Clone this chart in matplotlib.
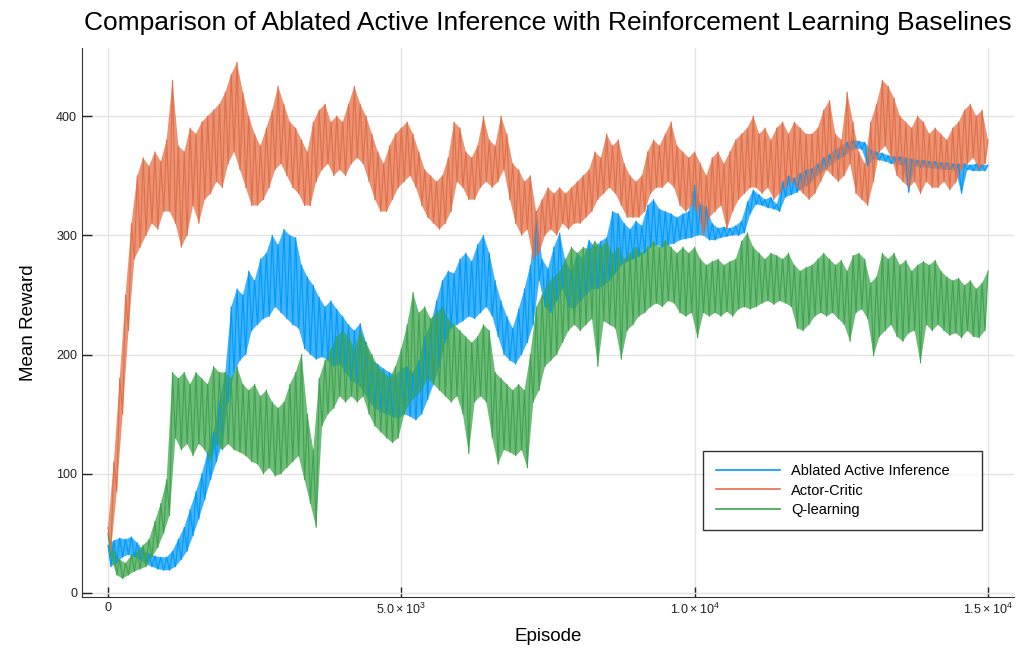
import numpy as np
import matplotlib
matplotlib.use("Agg")
import matplotlib.pyplot as plt

# upper / lower edges of each noisy curve
# hi at episodes 0,100,...,15000 ; lo at episodes 50,150,...,14950
aif_hi = [40, 44, 46, 45, 47, 42, 36, 33, 31, 30,
          30, 35, 45, 55, 70, 85, 100, 118, 135, 160,
          185, 240, 255, 250, 270, 262, 280, 285, 300, 292,
          305, 300, 298, 275, 265, 258, 248, 240, 245, 238,
          232, 225, 220, 226, 210, 195, 192, 188, 185, 182,
          188, 190, 185, 195, 215, 225, 245, 262, 270, 268,
          280, 285, 278, 292, 300, 285, 262, 245, 232, 222,
          238, 255, 275, 320, 280, 272, 290, 302, 278, 270,
          285, 280, 296, 290, 295, 298, 320, 318, 310, 305,
          312, 308, 325, 330, 322, 320, 318, 315, 318, 320,
          342, 326, 324, 310, 306, 307, 306, 308, 312, 328,
          338, 334, 330, 332, 326, 345, 350, 348, 352, 355,
          356, 360, 365, 368, 372, 375, 378, 380, 379, 378,
          372, 370, 369, 367, 366, 366, 365, 364, 363, 363,
          362, 362, 361, 361, 360, 360, 360, 359, 360, 359,
          359]
aif_lo = [22, 25, 30, 32, 30, 28, 24, 22, 20, 19,
          19, 22, 28, 35, 48, 62, 78, 95, 110, 125,
          160, 185, 195, 200, 220, 225, 230, 232, 240, 235,
          230, 225, 222, 205, 200, 196, 198, 195, 190, 192,
          185, 178, 175, 170, 160, 155, 152, 150, 148, 146,
          150, 148, 145, 150, 162, 175, 190, 210, 222, 225,
          228, 232, 230, 235, 240, 232, 215, 200, 195, 192,
          200, 210, 225, 262, 240, 235, 245, 255, 240, 238,
          245, 250, 255, 255, 258, 262, 268, 275, 278, 280,
          282, 285, 290, 292, 290, 292, 293, 296, 297, 298,
          300, 300, 296, 296, 298, 299, 300, 300, 302, 318,
          326, 325, 323, 322, 320, 332, 334, 336, 340, 342,
          348, 352, 356, 360, 364, 366, 370, 373, 372, 358,
          364, 363, 362, 360, 360, 358, 336, 358, 357, 357,
          356, 356, 355, 355, 354, 335, 355, 354, 354, 354]

ac_hi = [55, 110, 180, 250, 310, 350, 365, 358, 370, 362,
         380, 430, 375, 370, 390, 385, 395, 400, 405, 410,
         420, 435, 445, 420, 400, 385, 375, 390, 405, 425,
         410, 395, 390, 380, 370, 395, 405, 410, 395, 400,
         395, 410, 425, 410, 400, 385, 370, 360, 375, 385,
         390, 395, 385, 370, 355, 350, 345, 350, 365, 395,
         390, 370, 365, 375, 400, 380, 375, 400, 385, 360,
         355, 345, 350, 320, 330, 340, 335, 340, 335, 340,
         345, 350, 355, 370, 365, 385, 375, 380, 360, 350,
         345, 350, 370, 380, 375, 385, 395, 375, 370, 365,
         370, 360, 350, 365, 370, 360, 370, 380, 385, 390,
         400, 385, 390, 380, 390, 395, 385, 395, 390, 385,
         385, 390, 405, 413, 385, 380, 420, 395, 370, 360,
         395, 410, 430, 425, 415, 400, 395, 390, 400, 395,
         385, 390, 385, 380, 390, 395, 405, 410, 400, 405,
         380]
ac_lo = [35, 85, 150, 220, 280, 290, 300, 310, 305, 320,
         320, 310, 290, 300, 325, 310, 330, 335, 345, 340,
         360, 370, 355, 340, 325, 325, 330, 340, 355, 360,
         350, 340, 335, 325, 325, 345, 355, 360, 350, 355,
         350, 360, 365, 360, 345, 330, 320, 320, 330, 340,
         345, 350, 340, 325, 315, 310, 305, 310, 320, 345,
         340, 330, 330, 340, 345, 340, 345, 355, 330, 310,
         300, 305, 280, 285, 300, 305, 300, 310, 305, 310,
         310, 315, 320, 330, 335, 340, 335, 325, 315, 315,
         315, 320, 335, 340, 340, 345, 340, 325, 320, 325,
         320, 300, 315, 320, 325, 305, 320, 330, 335, 340,
         340, 335, 340, 330, 335, 340, 345, 340, 335, 330,
         335, 345, 355, 350, 345, 350, 360, 335, 330, 325,
         345, 370, 375, 365, 350, 345, 340, 345, 335, 345,
         340, 340, 345, 338, 344, 355, 360, 365, 355, 360]

ql_hi = [50, 35, 28, 25, 32, 35, 40, 45, 60, 75,
         95, 185, 180, 185, 175, 185, 180, 175, 190, 185,
         185, 180, 190, 175, 170, 175, 165, 170, 160, 155,
         160, 175, 185, 200, 150, 120, 180, 195, 205, 215,
         220, 215, 205, 220, 210, 200, 190, 185, 180, 190,
         205, 225, 252, 235, 240, 230, 235, 240, 230, 225,
         220, 215, 210, 215, 225, 220, 185, 180, 175, 170,
         175, 170, 200, 240, 250, 260, 265, 270, 280, 290,
         285, 290, 288, 295, 290, 295, 285, 290, 280, 285,
         290, 285, 290, 295, 290, 296, 290, 285, 290, 285,
         290, 280, 275, 278, 280, 275, 278, 280, 295, 302,
         290, 285, 280, 285, 283, 280, 285, 275, 270, 273,
         275, 280, 285, 280, 275, 279, 270, 283, 285, 280,
         260, 265, 285, 280, 285, 275, 279, 270, 275, 278,
         275, 279, 270, 265, 262, 264, 258, 262, 255, 260,
         270]
ql_lo = [30, 15, 12, 15, 18, 20, 22, 30, 38, 50,
         65, 130, 120, 125, 115, 125, 120, 110, 125, 120,
         125, 120, 118, 115, 110, 108, 100, 105, 98, 100,
         105, 110, 115, 95, 75, 55, 140, 150, 155, 165,
         160, 165, 160, 165, 150, 140, 135, 130, 126, 130,
         150, 160, 165, 170, 180, 175, 170, 165, 160, 165,
         150, 117, 160, 165, 160, 130, 108, 120, 118, 115,
         120, 105, 160, 170, 190, 195, 200, 210, 220, 225,
         220, 225, 230, 190, 228, 225, 222, 196, 220, 225,
         232, 235, 240, 243, 240, 245, 243, 235, 232, 235,
         214, 235, 232, 235, 232, 236, 232, 238, 240, 238,
         240, 243, 245, 242, 245, 243, 240, 222, 220, 225,
         232, 235, 232, 235, 230, 225, 211, 235, 238, 230,
         199, 215, 220, 225, 215, 211, 218, 220, 193, 225,
         220, 225, 220, 216, 218, 214, 220, 215, 214, 220]

labels = ["Ablated Active Inference", "Actor-Critic", "Q-learning"]
colors = ["#009AFA", "#E36F47", "#3EA44E"]

plt.rcParams["font.family"] = ["Liberation Sans", "DejaVu Sans"]
plt.rcParams["mathtext.default"] = "regular"

fig = plt.figure(figsize=(10.16, 6.48), dpi=100)
ax = fig.add_axes([0.0807, 0.0787, 0.9173, 0.847])

series = [(aif_hi, aif_lo), (ac_hi, ac_lo), (ql_hi, ql_lo)]
for (hi, lo), lab, col in zip(series, labels, colors):
    x_hi = np.linspace(0, 15000, len(hi))
    x_lo = np.linspace(50, 14950, len(lo))
    # band between the two edges, then the zigzag going hi -> lo -> hi ...
    ax.fill(np.concatenate([x_hi, x_lo[::-1]]), np.concatenate([hi, lo[::-1]]),
            color=col, alpha=0.75, lw=0)
    x = np.concatenate([x_hi, x_lo])
    y = np.concatenate([hi, lo])
    order = np.argsort(x, kind="stable")
    ax.plot(x[order], y[order], color=col, lw=0.8, label=lab)

ax.set_xlim(-443, 15443)
ax.set_ylim(-3.4, 457)
ax.set_xticks([0, 5000, 10000, 15000])
ax.set_xticklabels(["0", r"$5.0\times10^{3}$", r"$1.0\times10^{4}$", r"$1.5\times10^{4}$"])
ax.set_yticks([0, 100, 200, 300, 400])
ax.tick_params(direction="in", length=7, width=1, labelsize=9, colors="#222222")
ax.grid(True, color="#e4e4e4", lw=1)
ax.set_axisbelow(True)
for s in ["top", "right"]:
    ax.spines[s].set_visible(False)
for s in ["left", "bottom"]:
    ax.spines[s].set_color("#333333")

ax.set_title("Comparison of Ablated Active Inference with Reinforcement Learning Baselines",
             fontsize=19, pad=13)
ax.set_xlabel("Episode", fontsize=13.5, labelpad=8)
ax.set_ylabel("Mean Reward", fontsize=13.5, labelpad=14)

leg = ax.legend(loc="lower left", bbox_to_anchor=(0.6663, 0.122, 0.2994, 0.146),
                mode="expand", borderaxespad=0, fontsize=10.5,
                frameon=True, fancybox=False, edgecolor="black", handlelength=4.4,
                handletextpad=0.75, borderpad=0.9, labelspacing=0.37)
leg.get_frame().set_linewidth(1)
for h in leg.get_lines():
    h.set_linewidth(1.2)

fig.savefig("out.png", dpi=100)
